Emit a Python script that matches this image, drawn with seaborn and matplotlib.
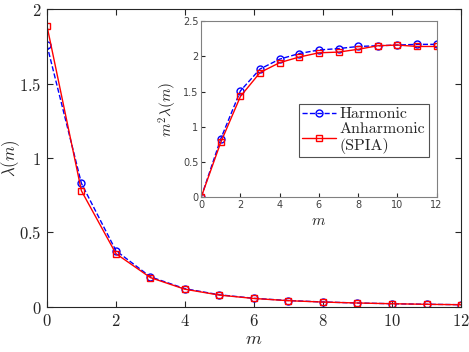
import numpy as np
import pandas as pd
import matplotlib
matplotlib.use("Agg")
import matplotlib.pyplot as plt
import seaborn as sns

# values
m = np.arange(0, 13)
lam_harm = [1.76, 0.83, 0.378, 0.202, 0.1225, 0.0816, 0.058, 0.043, 0.0334, 0.0265, 0.0216, 0.0179, 0.0151]
lam_anharm = [1.89, 0.78, 0.358, 0.197, 0.119, 0.0796, 0.0569, 0.042, 0.0328, 0.0265, 0.0216, 0.0177, 0.0149]
m2lam_harm = [0.0, 0.83, 1.51, 1.82, 1.96, 2.04, 2.09, 2.11, 2.14, 2.15, 2.16, 2.17, 2.17]
m2lam_anharm = [0.0, 0.78, 1.43, 1.77, 1.91, 1.99, 2.05, 2.06, 2.10, 2.15, 2.16, 2.14, 2.14]

sns.set_style("ticks")
plt.rcParams["mathtext.fontset"] = "cm"
plt.rcParams["font.family"] = ["DejaVu Sans"]

df = pd.DataFrame({"m": m, "lh": lam_harm, "la": lam_anharm,
                   "ih": m2lam_harm, "ia": m2lam_anharm})

edge = "#262626"
fig = plt.figure(figsize=(4.69, 3.52), dpi=100)
ax = fig.add_axes([0.100, 0.128, 0.883, 0.846])

blue_kw = dict(color="#0000ff", linestyle="--", marker="o", markersize=5,
               markerfacecolor="none", markeredgecolor="#0000ff", markeredgewidth=1, linewidth=1)
red_kw = dict(color="#ff0000", linestyle="-", marker="s", markersize=5,
              markerfacecolor="none", markeredgecolor="#ff0000", markeredgewidth=1, linewidth=1)

sns.lineplot(data=df, x="m", y="lh", ax=ax, **blue_kw)
sns.lineplot(data=df, x="m", y="la", ax=ax, **red_kw)
ax.set_xlim(0, 12)
ax.set_ylim(0, 2)
xt = list(range(0, 13, 2))
yt = [0, 0.5, 1, 1.5, 2]
ax.set_xticks(xt)
ax.set_xticklabels([f"${v}$" for v in xt], fontsize=12)
ax.set_yticks(yt)
ax.set_yticklabels([f"${v:g}$" for v in yt], fontsize=12)
ax.tick_params(direction="in", top=True, right=True, length=4, color=edge, labelcolor=edge, pad=4)
ax.set_xlabel("$m$", fontsize=13, color=edge, labelpad=0)
ax.set_ylabel(r"$\lambda(m)$", fontsize=12, color=edge, va="center")
ax.yaxis.set_label_coords(-0.088, 0.5)
for s in ax.spines.values():
    s.set_color(edge)
    s.set_linewidth(0.8)

# inset
ins = fig.add_axes([0.429, 0.440, 0.502, 0.500])
sns.lineplot(data=df, x="m", y="ih", ax=ins, label="Harmonic", **blue_kw)
sns.lineplot(data=df, x="m", y="ia", ax=ins, label="Anharmonic\n(SPIA)", **red_kw)
ins.set_xlim(0, 12)
ins.set_ylim(0, 2.5)
ins.set_xticks(xt)
ins.set_yticks([0, 0.5, 1, 1.5, 2, 2.5])
ins.set_yticklabels(["0", "0.5", "1", "1.5", "2", "2.5"])
ins.tick_params(direction="in", length=3, labelsize=7, color=edge, labelcolor="#404040", pad=2)
ins.set_xlabel("$m$", fontsize=11, color=edge, labelpad=2)
ins.set_ylabel(r"$m^2\lambda(m)$", fontsize=11, color=edge, labelpad=3)
for s in ins.spines.values():
    s.set_color("#808080")
    s.set_linewidth(0.8)

leg = ins.legend(loc="upper right", bbox_to_anchor=(0.966, 0.53), frameon=True, fancybox=False,
                 prop={"family": "cmr10", "size": 11.5}, handlelength=2.1, borderpad=0.2,
                 labelspacing=0.05, handletextpad=0.25, borderaxespad=0.0)
leg.get_frame().set_edgecolor(edge)
leg.get_frame().set_linewidth(0.8)

fig.savefig("out.png", dpi=100)
